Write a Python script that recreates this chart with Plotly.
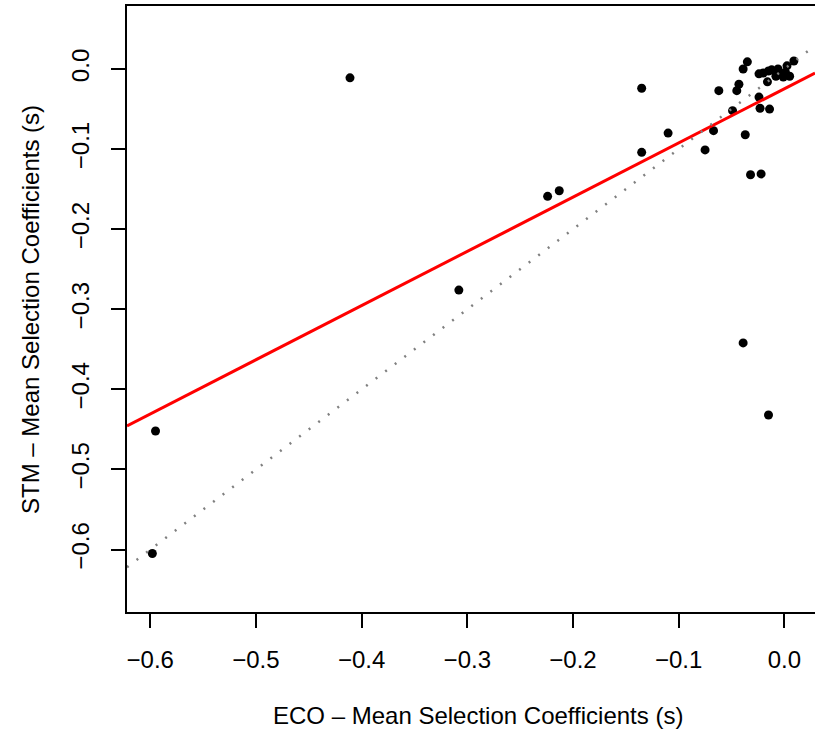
import plotly.graph_objects as go

# ECO (x) vs STM (y) mean selection coefficients
eco_s = [-0.598, -0.595, -0.411, -0.308, -0.224, -0.213, -0.135, -0.135, -0.110,
         -0.075, -0.067, -0.062, -0.049, -0.045, -0.043, -0.039, -0.035, -0.037,
         -0.032, -0.039, -0.015, -0.022, -0.014, -0.023, -0.024, -0.024, -0.015,
         -0.006, 0.0025, 0.009, -0.005, -0.001, 0.005, -0.008, -0.016, -0.012,
         -0.020, 0.001]
stm_s = [-0.605, -0.452, -0.011, -0.276, -0.159, -0.152, -0.024, -0.104, -0.080,
         -0.101, -0.077, -0.027, -0.052, -0.027, -0.019, 0.000, 0.009, -0.082,
         -0.132, -0.342, -0.432, -0.131, -0.050, -0.049, -0.035, -0.006, -0.0025,
         0.000, 0.004, 0.010, -0.005, -0.010, -0.009, -0.009, -0.016, -0.001,
         -0.005, -0.004]

# linear fit (red) and 1:1 reference line (grey dotted)
fit_intercept = -0.0246
fit_slope = 0.677
ref_intercept = 0.0
ref_slope = 1.0

x_range = [-0.622, 0.029]
y_range = [-0.678, 0.0787]
x_ticks = [-0.6, -0.5, -0.4, -0.3, -0.2, -0.1, 0.0]
y_ticks = [-0.6, -0.5, -0.4, -0.3, -0.2, -0.1, 0.0]
tick_text = ["\u22120.6", "\u22120.5", "\u22120.4", "\u22120.3", "\u22120.2", "\u22120.1", "0.0"]

FONT = "Liberation Sans, Arial, Helvetica, sans-serif"
FS = 24

fig = go.Figure()
fig.add_trace(go.Scatter(
    x=eco_s, y=stm_s, mode="markers",
    marker=dict(color="black", size=9, line=dict(width=0)),
    showlegend=False, hoverinfo="x+y"))

fig.add_trace(go.Scatter(
    x=x_range, y=[fit_intercept + fit_slope * v for v in x_range],
    mode="lines", line=dict(color="#FF0000", width=3),
    showlegend=False, hoverinfo="skip"))

fig.add_trace(go.Scatter(
    x=x_range, y=[ref_intercept + ref_slope * v for v in x_range],
    mode="lines", line=dict(color="#808080", width=2.5, dash="2px,10px"),
    showlegend=False, hoverinfo="skip"))

axis_common = dict(
    showgrid=False, zeroline=False, showline=True, linecolor="black",
    linewidth=1.5, ticks="outside", ticklen=14, tickwidth=1.5,
    tickcolor="black", tickfont=dict(family=FONT, size=FS, color="black"),
    automargin=False,
)

fig.update_xaxes(range=x_range, tickvals=x_ticks, ticktext=tick_text,
                 mirror=True, ticklabelstandoff=11, **axis_common)
fig.update_yaxes(range=y_range, tickvals=y_ticks, ticktext=tick_text,
                 mirror=False, tickangle=-90, ticklabelstandoff=13, **axis_common)

fig.add_annotation(text="ECO \u2013 Mean Selection Coefficients (s)",
                   xref="paper", yref="paper", x=0.51, y=-0.1716,
                   xanchor="center", yanchor="middle", showarrow=False,
                   font=dict(family=FONT, size=FS, color="black"))
fig.add_annotation(text="STM \u2013 Mean Selection Coefficients (s)",
                   xref="paper", yref="paper", x=-0.141, y=0.5,
                   xanchor="center", yanchor="middle", showarrow=False,
                   textangle=-90,
                   font=dict(family=FONT, size=FS, color="black"))

fig.update_layout(
    width=815, height=731,
    margin=dict(l=127, r=0, t=6, b=119, autoexpand=False),
    paper_bgcolor="white", plot_bgcolor="white",
    font=dict(family=FONT, size=FS, color="black"),
)

fig.write_html("out.html", config={"displayModeBar": False},
               post_script="document.body.style.margin='0';"
                           "document.body.style.overflow='hidden';")
